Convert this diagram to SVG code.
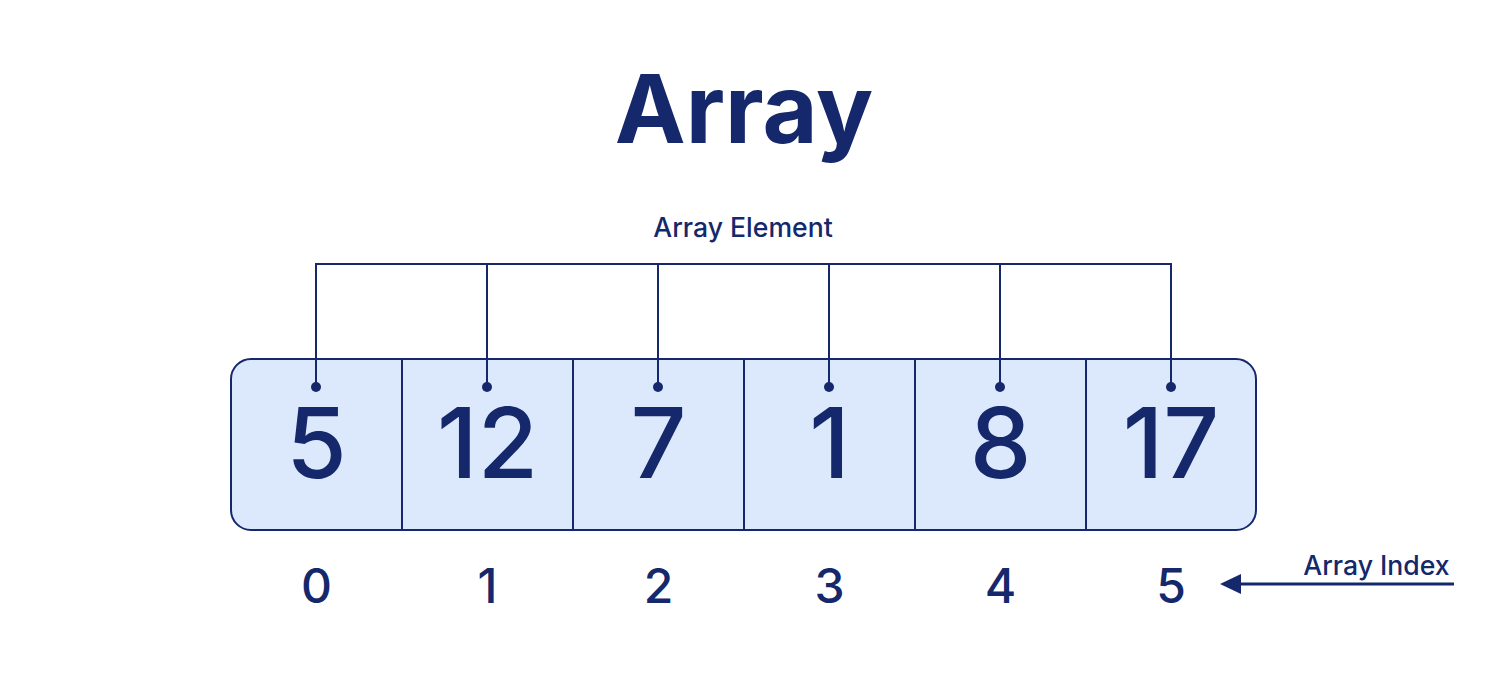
<svg xmlns="http://www.w3.org/2000/svg" width="1496" height="680" viewBox="0 0 1496 680">
<style>
text{font-family:Inter,"Liberation Sans",sans-serif;fill:#14286B;text-anchor:middle}
.val{font-size:98px;font-weight:500}
.idx{font-size:48px;font-weight:500}
.lbl{font-size:26.6px;font-weight:500}
.ln{stroke:#14286B;stroke-width:2;fill:none}
.cell{fill:#DCE9FC;stroke:#14286B;stroke-width:2}
</style>
<rect width="1496" height="680" fill="#FFFFFF"/>
<g id="title"><text x="744" y="143" style="font-size:95px;font-weight:700">Array</text></g>
<g id="array-element-label"><text class="lbl" x="743" y="237">Array Element</text></g>
<g id="array">
<rect class="cell" x="231" y="359" width="1025" height="171" rx="20"/>
<line class="ln" x1="402" y1="359" x2="402" y2="530"/>
<line class="ln" x1="573" y1="359" x2="573" y2="530"/>
<line class="ln" x1="744" y1="359" x2="744" y2="530"/>
<line class="ln" x1="915" y1="359" x2="915" y2="530"/>
<line class="ln" x1="1086" y1="359" x2="1086" y2="530"/>
</g>
<g id="cell-0"><text class="val" x="316.5" y="478">5</text></g>
<g id="cell-1"><text class="val" x="487.5" y="478">12</text></g>
<g id="cell-2"><text class="val" x="658.5" y="478">7</text></g>
<g id="cell-3"><text class="val" x="829.5" y="478">1</text></g>
<g id="cell-4"><text class="val" x="1000.5" y="478">8</text></g>
<g id="cell-5"><text class="val" x="1171" y="478">17</text></g>
<g id="indices">
<text class="idx" x="316.5" y="603">0</text>
<text class="idx" x="487.5" y="603">1</text>
<text class="idx" x="658.5" y="603">2</text>
<text class="idx" x="829.5" y="603">3</text>
<text class="idx" x="1000.5" y="603">4</text>
<text class="idx" x="1171" y="603">5</text>
</g>
<g id="array-index-label"><text class="lbl" x="1376.5" y="575">Array Index</text></g>
<g id="connectors">
<path class="ln" d="M316,387 V264 H1171 V387 M487,264 V387 M658,264 V387 M829,264 V387 M1000,264 V387"/>
<circle cx="316" cy="387" r="5" fill="#14286B"/>
<circle cx="487" cy="387" r="5" fill="#14286B"/>
<circle cx="658" cy="387" r="5" fill="#14286B"/>
<circle cx="829" cy="387" r="5" fill="#14286B"/>
<circle cx="1000" cy="387" r="5" fill="#14286B"/>
<circle cx="1171" cy="387" r="5" fill="#14286B"/>
<line x1="1454" y1="584" x2="1240" y2="584" stroke="#14286B" stroke-width="3"/>
<path d="M1220,584 L1241,574 L1241,594 Z" fill="#14286B"/>
</g>
</svg>
